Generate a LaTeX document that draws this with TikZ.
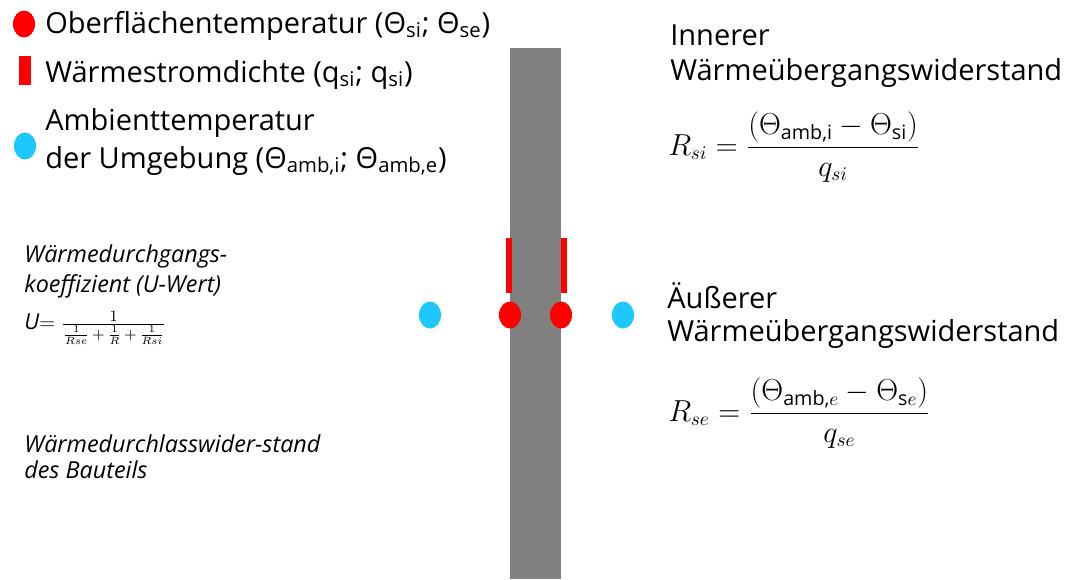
\documentclass[tikz,border=0pt]{standalone}
\usepackage{amsmath}
\usepackage{fontspec}
\setmainfont{Open Sans}
\usepackage{tikz}
\usetikzlibrary{positioning,shapes.geometric}
\definecolor{wall}{HTML}{808080}
\definecolor{hot}{HTML}{FF0000}
\definecolor{sky}{HTML}{1EC8FF}

\begin{document}
\begin{tikzpicture}[x=0.02cm, y=-0.02cm,
  label/.style={inner sep=0pt, anchor=base west, font=\fontsize{16.5}{20}\selectfont},
  note/.style={inner sep=0pt, anchor=base west, font=\fontsize{13.3}{16}\selectfont\itshape},
  formula/.style={inner sep=0pt, anchor=west, font=\fontsize{16}{20}\selectfont},
  temp/.style={ellipse, minimum width=22*0.02cm, minimum height=27*0.02cm, inner sep=0pt},
  flux/.style={fill=hot, draw=none}
]
  \useasboundingbox (0,0) rectangle (1078,579);
  % wall
  \fill[wall] (510,48) rectangle (561,579);
  \fill[flux] (506,238) rectangle (512,293);
  \fill[flux] (561,238) rectangle (567,293);
  \node[temp, fill=sky] (ambi) at (430,315) {};
  \node[temp, fill=hot] (surfi) at (510,315) {};
  \node[temp, fill=hot] (surfe) at (561,315) {};
  \node[temp, fill=sky] (ambe) at (623,315) {};
  % legend
  \node[temp, fill=hot] (keysurf) at (24,24) {};
  \node[label] (txtsurf) at (45,33) {Oberflächentemperatur (Θ\textsubscript{si}; Θ\textsubscript{se})};
  \node[flux, minimum width=12*0.02cm, minimum height=29*0.02cm, inner sep=0pt] (keyflux) at (25,70) {};
  \node[label] (txtflux) at (45,82) {Wärmestromdichte (q\textsubscript{si}; q\textsubscript{si})};
  \node[temp, fill=sky] (keyamb) at (25,146) {};
  \node[label] (txtamb) at (45,130) {Ambienttemperatur};
  \node[label] (txtamb2) at (45,168) {der Umgebung (Θ\textsubscript{amb,i}; Θ\textsubscript{amb,e})};
  % left notes
  \node[note] (ukoef) at (24,262) {Wärmedurchgangs-};
  \node[note] (ukoef2) at (24,292) {koeffizient (U-Wert)};
  \node[inner sep=0pt, anchor=west, font=\fontsize{12.5}{15}\selectfont] (uform) at (24,328)
    {$\textit{U}{=}\ \frac{1}{\frac{1}{Rse}\,{+}\,\frac{1}{R}\,{+}\,\frac{1}{Rsi}}$};
  \node[note] (rwand) at (24,452) {Wärmedurchlasswider-stand};
  \node[note] (rwand2) at (24,478) {des Bauteils};
  % right side
  \node[label] (inner) at (670,45) {Innerer};
  \node[label] (inner2) at (670,80) {Wärmeübergangswiderstand};
  \node[formula] (rsi) at (668,147)
    {$R_{si} = \dfrac{(\Theta_{\text{amb,i}} - \Theta_{\text{si}})}{q_{si}}$};
  \node[label] (outer) at (667,308) {Äußerer};
  \node[label] (outer2) at (667,341) {Wärmeübergangswiderstand};
  \node[formula] (rse) at (668,413)
    {$R_{se} = \dfrac{(\Theta_{\text{amb,}e} - \Theta_{\text{s}e})}{q_{se}}$};
\end{tikzpicture}
\end{document}
